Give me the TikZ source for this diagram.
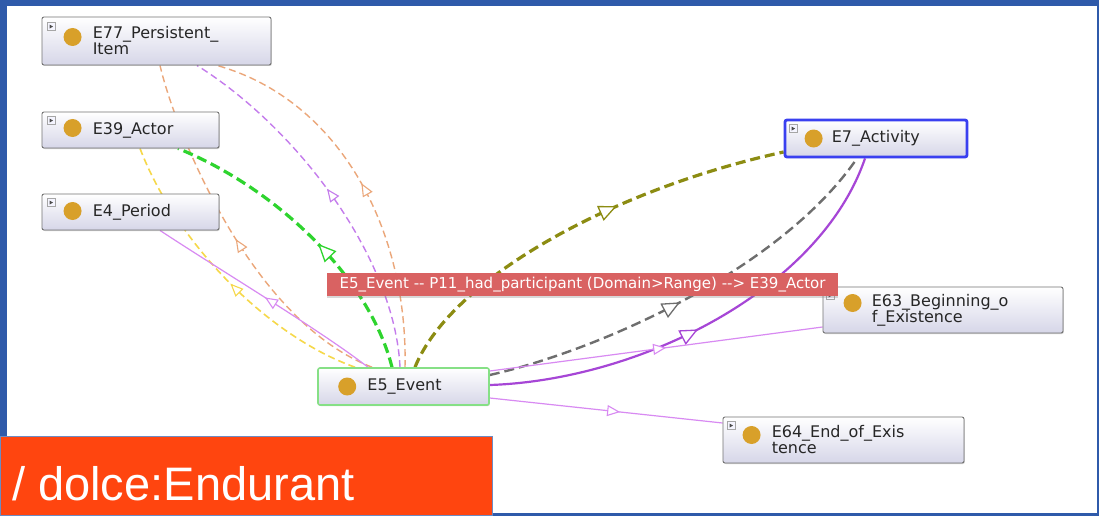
\documentclass[tikz,border=0pt]{standalone}
\usepackage{fontspec}
\newfontfamily\clsfont{DejaVu Sans}
\newfontfamily\tagfont{Liberation Sans}
\usetikzlibrary{positioning,arrows.meta,decorations.markings,backgrounds,shadows}

\definecolor{framebg}{HTML}{2F5AAA}
\definecolor{clsbot}{HTML}{D6D6E8}
\definecolor{dotgold}{HTML}{D8A02A}
\definecolor{actblue}{HTML}{3A40F0}
\definecolor{evgreen}{HTML}{86E086}
\definecolor{relred}{HTML}{D96262}
\definecolor{tagorange}{HTML}{FF450F}
\definecolor{cpeach}{HTML}{EBA77A}
\definecolor{clilac}{HTML}{C47CEC}
\definecolor{cyellow}{HTML}{F6D84A}
\definecolor{cgreen}{HTML}{2ED42E}
\definecolor{colive}{HTML}{8C8C12}
\definecolor{cgray}{HTML}{6E6E6E}
\definecolor{cpurple}{HTML}{A646D6}
\definecolor{cthin}{HTML}{D88AF2}

\tikzset{
  cls/.style={draw=black!55, line width=0.9pt, rounded corners=2pt,
    top color=white, bottom color=clsbot,
    drop shadow={shadow xshift=0.8pt, shadow yshift=-1pt, opacity=0.35}},
  dot/.style={circle, fill=dotgold, minimum size=18pt, inner sep=0pt},
  icon/.style={draw=black!35, fill=blue!4, minimum size=8pt, inner sep=0pt,
    path picture={\fill[black!70] ([xshift=2pt,yshift=-2pt]path picture bounding box.north west)
      -- ++(3.5pt,-2pt) -- ++(-3.5pt,-2pt) -- cycle;}},
  ctext/.style={font=\clsfont\fontsize{16}{16}\selectfont, align=left,
    inner sep=0pt, text=black!85},
  mid/.style={postaction={decorate, decoration={markings,
    mark=at position #1 with {\arrow[solid, line width=1.1pt]{Triangle[fill=white, length=13pt, width=11pt]}}}}},
  bigmid/.style={postaction={decorate, decoration={markings,
    mark=at position #1 with {\arrow[solid, line width=1.3pt]{Triangle[fill=white, length=18pt, width=16pt]}}}}},
  peach/.style={draw=cpeach, line width=1.4pt, dash pattern=on 7pt off 4pt},
  lilacdash/.style={draw=clilac, line width=1.4pt, dash pattern=on 7pt off 4pt},
  yellowdash/.style={draw=cyellow, line width=1.6pt, dash pattern=on 7pt off 4pt},
  greendash/.style={draw=cgreen, line width=3.2pt, dash pattern=on 10pt off 5pt},
  olivedash/.style={draw=colive, line width=3.2pt, dash pattern=on 10pt off 5pt},
  graydash/.style={draw=cgray, line width=2.4pt, dash pattern=on 10pt off 5pt},
  purple/.style={draw=cpurple, line width=2.2pt},
  thinlilac/.style={draw=cthin, line width=1.2pt},
  relbox/.style={fill=relred, text=white, inner sep=0pt, minimum width=511pt, minimum height=23pt,
    font=\clsfont\fontsize{15}{15}\selectfont,
    drop shadow={shadow xshift=0pt, shadow yshift=-2pt, opacity=0.3}},
  tagbox/.style={fill=tagorange, draw=framebg!70, line width=0.8pt, inner sep=0pt},
  tagtext/.style={text=white, font=\tagfont\fontsize{47}{47}\selectfont, inner sep=0pt}
}

\begin{document}
\begin{tikzpicture}[x=1pt, y=-1pt]
  \useasboundingbox (0,0) rectangle (1099,516);

  % classes
  \node[cls, minimum width=229pt, minimum height=48pt] (e77) at (156.5,41) {};
  \node[cls, minimum width=177pt, minimum height=36pt] (e39) at (130.5,130) {};
  \node[cls, minimum width=177pt, minimum height=36pt] (e4) at (130.5,212) {};
  \node[cls, minimum width=182pt, minimum height=37pt, draw=actblue, line width=2.8pt] (e7) at (876,138.5) {};
  \node[cls, minimum width=240pt, minimum height=46pt] (e63) at (943,310) {};
  \node[cls, minimum width=171pt, minimum height=37pt, draw=evgreen, line width=1.6pt] (e5) at (403.5,386.5) {};
  \node[cls, minimum width=241pt, minimum height=46pt] (e64) at (843.5,440) {};

  \node[dot] (e77dot) at ([xshift=31pt,yshift=4pt]e77.west) {};
  \node[dot] (e39dot) at ([xshift=31pt,yshift=2pt]e39.west) {};
  \node[dot] (e4dot) at ([xshift=31pt,yshift=1pt]e4.west) {};
  \node[dot] (e7dot) at ([xshift=30pt,yshift=0pt]e7.west) {};
  \node[dot] (e63dot) at ([xshift=30pt,yshift=7pt]e63.west) {};
  \node[dot] (e5dot) at ([xshift=30pt,yshift=0pt]e5.west) {};
  \node[dot] (e64dot) at ([xshift=29pt,yshift=5pt]e64.west) {};

  \node[icon] (e77ic) at ([xshift=10pt,yshift=-10pt]e77.north west) {};
  \node[icon] (e39ic) at ([xshift=10pt,yshift=-9pt]e39.north west) {};
  \node[icon] (e4ic) at ([xshift=10pt,yshift=-9pt]e4.north west) {};
  \node[icon] (e7ic) at ([xshift=10pt,yshift=-10pt]e7.north west) {};
  \node[icon] (e63ic) at ([xshift=8pt,yshift=-9pt]e63.north west) {};
  \node[icon] (e64ic) at ([xshift=9pt,yshift=-9pt]e64.north west) {};

  \node[ctext, right=51pt of e77.west] (e77txt) {E77\_Persistent\_\\Item};
  \node[ctext, right=51pt of e39.west] (e39txt) {E39\_Actor};
  \node[ctext, right=51pt of e4.west] (e4txt) {E4\_Period};
  \node[ctext, right=48pt of e7.west] (e7txt) {E7\_Activity};
  \node[ctext, right=49pt of e63.west] (e63txt) {E63\_Beginning\_o\\f\_Existence};
  \node[ctext, right=50pt of e5.west] (e5txt) {E5\_Event};
  \node[ctext, right=49pt of e64.west] (e64txt) {E64\_End\_of\_Exis\\tence};

  % frame and relations behind the classes
  \begin{scope}[on background layer]
    \fill[framebg] (0,0) rectangle (1099,516);
    \fill[white] (7,6) rectangle (1097,513);
    \draw[peach, mid=0.5] ([xshift=-31.5pt]e5.north) .. controls (250,320) and (175,130) .. ([xshift=3.5pt]e77.south);
    \draw[lilacdash, mid=0.52] ([xshift=-3.5pt]e5.north) .. controls (395,260) and (300,130) .. ([xshift=40.5pt]e77.south);
    \draw[peach, mid=0.5] ([xshift=1.5pt]e5.north) .. controls (408,230) and (340,100) .. ([xshift=60.5pt]e77.south);
    \draw[yellowdash, mid=0.48] ([xshift=-48.5pt]e5.north) .. controls (265,335) and (175,240) .. ([xshift=9.5pt]e39.south);
    \draw[greendash, bigmid=0.46] ([xshift=-11.5pt]e5.north) .. controls (370,280) and (280,190) .. ([xshift=47.5pt]e39.south);
    \draw[thinlilac, mid=0.5] ([xshift=-35.5pt]e5.north) .. controls (320,330) and (220,270) .. ([xshift=29.5pt]e4.south);
    \draw[olivedash, bigmid=0.6] ([xshift=11.5pt]e5.north) .. controls (450,280) and (610,190) .. ([yshift=-13.5pt]e7.west);
    \draw[graydash, bigmid=0.47] ([yshift=11.5pt]e5.east) .. controls (600,350) and (780,270) .. ([xshift=-19pt]e7.south);
    \draw[purple, bigmid=0.47] ([yshift=1.5pt]e5.east) .. controls (640,380) and (820,290) .. ([xshift=-11pt]e7.south);
    \draw[thinlilac, mid=0.53] ([yshift=15.5pt]e5.east) -- ([yshift=-17pt]e63.west);
    \draw[thinlilac, mid=0.56] ([yshift=-11.5pt]e5.east) -- ([yshift=17pt]e64.west);
  \end{scope}

  \node[relbox] (rel) at (582.5,284.5) {E5\_Event -{}- P11\_had\_participant (Domain>Range) -{}-> E39\_Actor};

  \node[tagbox, minimum width=492pt, minimum height=79pt, anchor=south west] (tag) at (0,516) {};
  \node[tagtext, anchor=base west] (tagtxt) at ([xshift=12pt,yshift=16pt]tag.south west) {/ dolce:Endurant};
\end{tikzpicture}
\end{document}
